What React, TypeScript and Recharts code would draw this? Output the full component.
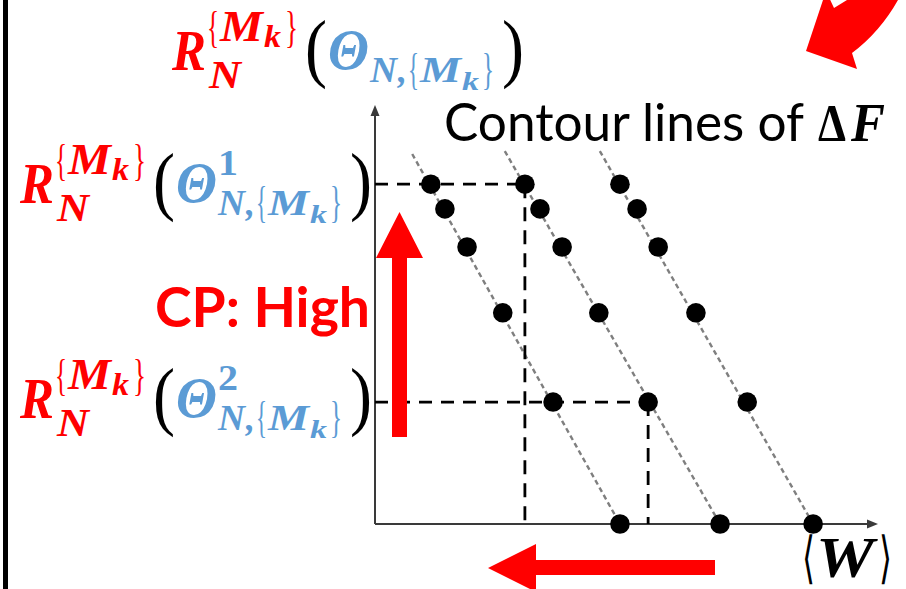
import React from 'react';
import { ScatterChart, Scatter, XAxis, YAxis, ReferenceLine, ReferenceDot } from 'recharts';

// schematic units: <W> on x (0..10), R_N on y (0..10)
const rowLevels = [8.11, 7.52, 6.61, 5.04, 2.91, 0];
const contourA = [1.11, 1.39, 1.83, 2.54, 3.54, 4.87];
const contourB = [2.98, 3.28, 3.72, 4.45, 5.43, 6.86];
const contourC = [4.87, 5.21, 5.63, 6.38, 7.4, 8.71];
const contourTopX = [0.74, 2.58, 4.47];
const contourTopY = [8.83, 8.9, 8.9];
const guideLevels = [8.11, 2.91]; // R(Θ¹), R(Θ²)
const guideW = [2.98, 5.43];

const contours = [contourA, contourB, contourC];
const dots = contours.flatMap((xs) => xs.map((x, i) => ({ x, y: rowLevels[i] })));

const RED = '#FF0000';
const BLUE = '#5B9BD5';
const SERIF = '"Liberation Serif", serif';
const SANS = 'Lato, "Open Sans", sans-serif';

// one glyph piece inside a <text>
const P = ({ x, y, w, size, fill, bold = true, italic = true, children }: any) => (
  <tspan
    x={x}
    y={y}
    fontSize={size}
    fill={fill}
    fontWeight={bold ? 'bold' : 'normal'}
    fontStyle={italic ? 'italic' : 'normal'}
    textLength={w}
    lengthAdjust="spacingAndGlyphs"
  >
    {children}
  </tspan>
);

const MathLabel = ({ x0, y0, sup }: { x0: number; y0: number; sup?: string }) => (
  <text fontFamily={SERIF}>
    <P x={x0} y={y0} w={34} size={56} fill={RED}>R</P>
    <P x={x0 + 35} y={y0 - 28} w={12} size={44} fill={RED} bold={false} italic={false}>{'{'}</P>
    <P x={x0 + 48} y={y0 - 29} w={43} size={44} fill={RED}>M</P>
    <P x={x0 + 92} y={y0 - 23} w={17} size={32} fill={RED}>k</P>
    <P x={x0 + 113} y={y0 - 28} w={13} size={44} fill={RED} bold={false} italic={false}>{'}'}</P>
    <P x={x0 + 37} y={y0 + 18} w={32} size={40} fill={RED}>N</P>
    <P x={x0 + 133} y={y0 + 3} w={22} size={76} fill="#000" bold={false} italic={false}>(</P>
    <P x={x0 + 156} y={y0 - 1} w={41} size={58} fill={BLUE}>Θ</P>
    {sup && <P x={x0 + 198} y={y0 - 28} w={20} size={36} fill={BLUE} italic={false}>{sup}</P>}
    <P x={x0 + 198} y={y0 + 12} w={27} size={35} fill={BLUE}>N</P>
    <P x={x0 + 226} y={y0 + 12} w={9} size={35} fill={BLUE}>,</P>
    <P x={x0 + 236} y={y0 + 14} w={11} size={44} fill={BLUE} bold={false} italic={false}>{'{'}</P>
    <P x={x0 + 248} y={y0 + 12} w={41} size={35} fill={BLUE}>M</P>
    <P x={x0 + 290} y={y0 + 20} w={17} size={26} fill={BLUE}>k</P>
    <P x={x0 + 310} y={y0 + 14} w={12} size={44} fill={BLUE} bold={false} italic={false}>{'}'}</P>
    <P x={x0 + 330} y={y0 + 3} w={22} size={76} fill="#000" bold={false} italic={false}>)</P>
  </text>
);

const Dot = (p: any) => <circle cx={p.cx} cy={p.cy} r={9.8} fill="#000" />;
const ArrowUp = (p: any) => <path d={`M${p.cx},${p.cy} l-4.5,11 l9,0 z`} fill="#3a3a3a" />;
const ArrowRight = (p: any) => <path d={`M${p.cx},${p.cy} l-11,-4.5 l0,9 z`} fill="#3a3a3a" />;

export default function App() {
  return (
    <div style={{ position: 'absolute', left: 0, top: 0, width: 906, height: 589, background: '#fff' }}>
      <ScatterChart width={906} height={589} margin={{ top: 105, right: 28, bottom: 65, left: 375 }}>
        <XAxis type="number" dataKey="x" domain={[0, 10]} hide />
        <YAxis type="number" dataKey="y" domain={[0, 10]} hide />
        {/* axes */}
        <ReferenceLine segment={[{ x: 0, y: 0 }, { x: 0, y: 9.8 }]} stroke="#3a3a3a" strokeWidth={2} />
        <ReferenceLine segment={[{ x: 0, y: 0 }, { x: 9.85, y: 0 }]} stroke="#3a3a3a" strokeWidth={2} />
        <ReferenceDot x={0} y={10} ifOverflow="visible" shape={ArrowUp} />
        <ReferenceDot x={10} y={0} ifOverflow="visible" shape={ArrowRight} />
        {/* contour lines of ΔF */}
        {contours.map((xs, i) => (
          <ReferenceLine
            key={`c${i}`}
            segment={[{ x: contourTopX[i], y: contourTopY[i] }, { x: xs[xs.length - 1], y: 0 }]}
            stroke="#7f7f7f"
            strokeWidth={2.4}
            strokeDasharray="5 3.5"
          />
        ))}
        {/* dashed guides */}
        {guideLevels.map((g, i) => (
          <ReferenceLine
            key={`h${i}`}
            segment={[{ x: 0, y: g }, { x: guideW[i], y: g }]}
            stroke="#000"
            strokeWidth={2.8}
            strokeDasharray="13 9"
          />
        ))}
        {guideLevels.map((g, i) => (
          <ReferenceLine
            key={`v${i}`}
            segment={[{ x: guideW[i], y: g }, { x: guideW[i], y: 0 }]}
            stroke="#000"
            strokeWidth={2.8}
            strokeDasharray="14 9"
          />
        ))}
        <Scatter data={dots} shape={Dot} isAnimationActive={false} />
      </ScatterChart>

      <svg width={906} height={589} style={{ position: 'absolute', left: 0, top: 0, pointerEvents: 'none' }}>
        <rect x={3} y={0} width={5} height={589} fill="#000" />

        <MathLabel x0={172} y0={70} />
        <MathLabel x0={20} y0={203} sup="1" />
        <MathLabel x0={20} y0={418} sup="2" />

        <text x={155} y={327} fontFamily={SANS} fontWeight="bold" fontSize={56} fill={RED} textLength={215} lengthAdjust="spacingAndGlyphs">
          CP: High
        </text>

        <text fontFamily={SANS}>
          <P x={444} y={141} w={360} size={52} fill="#000" bold={false} italic={false}>Contour lines of</P>
          <tspan fontFamily={SERIF}>
            <P x={818} y={141} w={28} size={52} fill="#000" italic={false}>Δ</P>
            <P x={851} y={141} w={34} size={54} fill="#000">F</P>
          </tspan>
        </text>

        <text fontFamily='"DejaVu Sans", sans-serif'>
          <P x={802} y={577} w={13} size={56} fill="#000" bold={false} italic={false}>⟨</P>
          <tspan fontFamily={SERIF}>
            <P x={816} y={577} w={58} size={56} fill="#000">W</P>
          </tspan>
          <P x={879} y={577} w={13} size={56} fill="#000" bold={false} italic={false}>⟩</P>
        </text>

        {/* red arrows */}
        <path d="M392,437 L407,437 L407,258 L423,258 L399.5,212 L376,258 L392,258 Z" fill={RED} />
        <path d="M715,560 L715,575 L536,575 L536,592 L488,568 L536,544 L536,560 Z" fill={RED} />
        <path d="M847,0 L834,8 L826,-9 L806,51 L857,69 L852,53 Q880,32 898,0 Z" fill={RED} />
      </svg>
    </div>
  );
}
